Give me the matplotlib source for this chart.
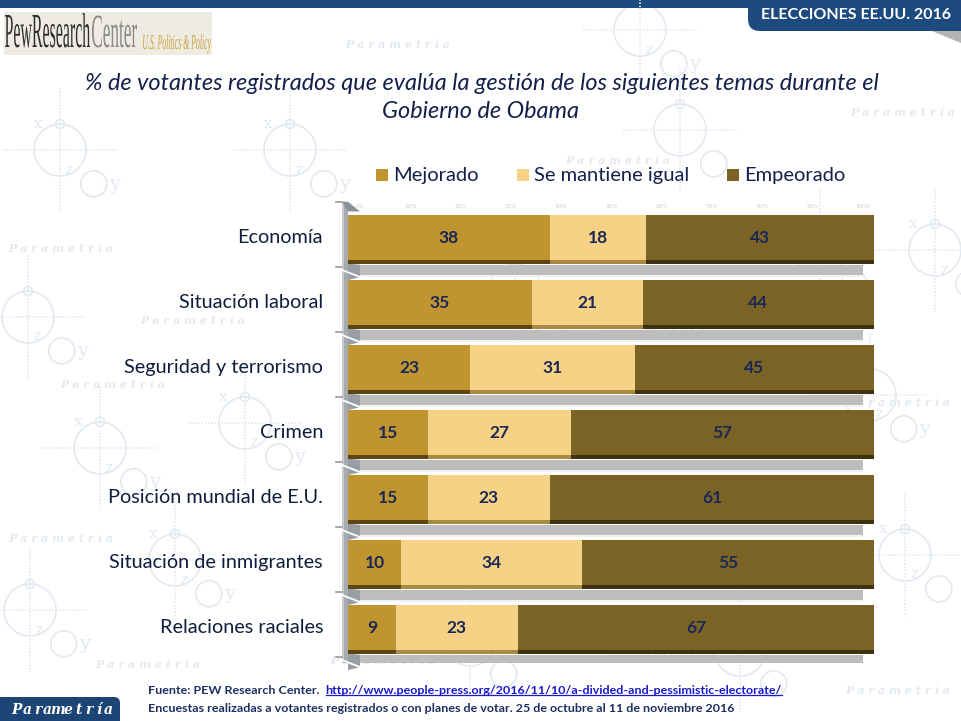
import matplotlib
matplotlib.use("Agg")
import matplotlib.pyplot as plt
import numpy as np
from matplotlib.patches import Rectangle, Polygon, Circle, FancyBboxPatch, PathPatch
from matplotlib.textpath import TextPath
from matplotlib.font_manager import FontProperties
from matplotlib.transforms import Affine2D

# data
categories = ["Economía", "Situación laboral", "Seguridad y terrorismo", "Crimen",
              "Posición mundial de E.U.", "Situación de inmigrantes", "Relaciones raciales"]
series_names = ["Mejorado", "Se mantiene igual", "Empeorado"]
mejorado = [38, 35, 23, 15, 15, 10, 9]
igual = [18, 21, 31, 27, 23, 34, 23]
empeorado = [43, 44, 45, 57, 61, 55, 67]
face_colors = ["#c0952f", "#f5d286", "#7b6326"]
edge_colors = ["#5c4614", "#a88a45", "#3f3210"]
pct_labels = ["0%", "10%", "20%", "30%", "40%", "50%", "60%", "70%", "80%", "90%", "100%"]

title_1 = "% de votantes registrados que evalúa la gestión de los siguientes temas durante el"
title_2 = "Gobierno de Obama"
source_1 = "Fuente: PEW Research Center.  "
source_link = "http://www.people-press.org/2016/11/10/a-divided-and-pessimistic-electorate/"
source_2 = "Encuestas realizadas a votantes registrados o con planes de votar. 25 de octubre al 11 de noviembre 2016"

FONT = "Lato"
NAVY = "#13204a"
BLUE = "#1d4a7f"
WM = "#e2e9f1"

fig = plt.figure(figsize=(9.61, 7.21), dpi=100)
fig.patch.set_facecolor("white")

# full-figure axes in pixel coords for the slide decoration
bg = fig.add_axes([0, 0, 1, 1])
bg.set_xlim(0, 961)
bg.set_ylim(721, 0)
bg.axis("off")


def motif(cx, cy, r=26, letters=True):
    # faint watermark pattern of the slide background
    bg.add_patch(Circle((cx, cy), r, fill=False, ec=WM, lw=1.2))
    bg.plot([cx - 2.2 * r, cx + 2.2 * r], [cy, cy], color=WM, lw=1.2, ls=(0, (1, 1)))
    bg.plot([cx, cx], [cy - 2.4 * r, cy + 2.4 * r], color=WM, lw=1.2, ls=(0, (1, 1)))
    bg.add_patch(Circle((cx + 1.3 * r, cy + 1.3 * r), 0.5 * r, fill=False, ec=WM, lw=1.2))
    bg.add_patch(Circle((cx, cy - r), 0.17 * r, fill=False, ec=WM, lw=1.2))
    if not letters:
        return
    for dx, dy, ch, fs in [(-0.85, -1.0, "x", 11), (0.35, 0.75, "z", 10), (2.1, 1.3, "y", 14)]:
        tx, ty = cx + dx * r, cy + dy * r
        if 8 < tx < 953 and 12 < ty < 712:
            bg.text(tx, ty, ch, color=WM, fontsize=fs, family="DejaVu Serif",
                    ha="center", va="center")


for mx, my, lt in [(28, 317, True), (100, 448, True), (245, 423, True), (30, 610, True),
                   (175, 560, True), (515, 290, False), (290, 150, True), (680, 130, False),
                   (640, 30, True), (905, 555, True), (935, 250, True), (870, 395, True),
                   (470, 640, False), (740, 650, False), (820, 250, False), (60, 150, True)]:
    motif(mx, my, letters=lt)

for wx, wy in [(345, 45), (850, 113), (565, 160), (8, 248), (60, 385),
               (845, 402), (8, 538), (95, 665), (330, 660), (610, 652), (140, 320),
               (600, 330), (845, 690)]:
    bg.text(wx, wy, "P a r a m e t r í a", color=WM, fontsize=8, style="italic",
            weight="bold", family="DejaVu Serif", ha="left", va="center")

# top banner
bg.add_patch(Rectangle((0, 0), 961, 8, color=BLUE, lw=0))
bg.add_patch(FancyBboxPatch((748, -30), 260, 61, boxstyle="round,pad=0,rounding_size=12",
                            fc=BLUE, ec="none"))
bg.add_patch(Polygon([(932, 31), (961, 31), (961, 43)], closed=True, fc="#b4b4b4", ec="none"))
banner = bg.text(951, 15, "ELECCIONES EE.UU. 2016", color="white", fontsize=12.5,
                 weight="bold", family=FONT, ha="right", va="center")

# Pew logo box
bg.add_patch(Rectangle((4, 12), 208, 43, fc="#eeece2", ec="none"))


def squeezed(s, x0, x1, y_base, height, color, prop, ref=None):
    tp = TextPath((0, 0), s, size=100, prop=prop)
    rb = TextPath((0, 0), ref or s, size=100, prop=prop).get_extents()
    bb = tp.get_extents()
    sx = (x1 - x0) / bb.width
    sy = height / rb.height
    tr = Affine2D().translate(-bb.x0, 0).scale(sx, -sy).translate(x0, y_base)
    bg.add_patch(PathPatch(tr.transform_path(tp), fc=color, ec="none"))


serif = FontProperties(family="Liberation Serif")
serif_it = FontProperties(family="Liberation Serif", style="italic")
squeezed("PewResearch", 5, 90, 47, 32, "#2e2e2e", serif, ref="P")
squeezed("Center", 92, 137, 47, 32, "#8a8a8a", serif, ref="C")
squeezed("U.S. Politics & Policy", 143, 211, 49, 14, "#c9a23c", serif_it, ref="U")

# title
t1 = bg.text(482, 84, title_1, color=NAVY, fontsize=15, style="italic", family=FONT,
             ha="center", va="center")
t2 = bg.text(481, 112, title_2, color=NAVY, fontsize=15, style="italic", family=FONT,
             ha="center", va="center")

# legend
leg_x = [376, 517, 727]
for lx, name, col in zip(leg_x, series_names, face_colors):
    bg.add_patch(Rectangle((lx, 169), 12, 12, fc=col, ec="none"))
    bg.text(lx + 17, 175, name, color=NAVY, fontsize=14.5, family=FONT, ha="left", va="center")

# footer
bg.add_patch(FancyBboxPatch((-20, 697), 140, 60, boxstyle="round,pad=0,rounding_size=6",
                            fc="#1c4576", ec="none"))
for i, ch in enumerate("Parametría"):
    bg.text(17 + i * 10.2, 710, ch, color="white", fontsize=10, style="italic",
            weight="bold", family="DejaVu Serif", ha="center", va="center")
f1 = bg.text(148, 690, source_1, color="#1f2f62", fontsize=8.6, weight="bold", family=FONT,
             ha="left", va="center")
f2 = bg.text(148, 708, source_2, color="#1f2f62", fontsize=8.6, weight="bold", family=FONT,
             ha="left", va="center")

# chart axes: x in percent, y in category index
ax = fig.add_axes([348 / 961, 1 - 663 / 721, 526 / 961, 463 / 721])
ax.set_xlim(0, 100)
ax.set_ylim(6.546, -0.577)
ax.axis("off")

vals = np.array([mejorado, igual, empeorado], dtype=float)
shares = vals / vals.sum(axis=0) * 100
y = np.arange(len(categories))
face_h = 0.692

# left wall of the 3D plot
ax.add_patch(Rectangle((-1.15, -0.55), 1.15, 7.09, fc="#a6aab1", ec="none", clip_on=False))
ax.add_patch(Rectangle((-1.15, -0.55), 0.35, 7.09, fc="#c7cbd1", ec="none", clip_on=False))
ax.add_patch(Polygon([(-1.15, -0.55), (0, -0.55), (2.3, -0.40), (0, -0.40)], closed=True,
                     fc="#8e9298", ec="none", clip_on=False))

# floor shadow bands and wedges between rows
for yi in y:
    ax.add_patch(Polygon([(0, yi + 0.40), (2.3, yi + 0.42), (2.3, yi + 0.61), (0, yi + 0.655)],
                         closed=True, fc="#9a9ea4", ec="none", clip_on=False))
    ax.barh(yi + 0.50, 97.9 - 2.28, left=2.28, height=0.155, color="#bdbdbd", lw=0)
    ax.barh(yi + 0.593, 97.9 - 2.28, left=2.28, height=0.03, color="#f2f2f2", lw=0)
    ax.plot([-1.15, 2.28], [yi + 0.50, yi + 0.608], color="white", lw=1.3, clip_on=False)
for yb in np.arange(-0.55, 7.0, 1.0):
    ax.plot([-2.3, -1.15], [yb, yb], color="#9a9a9a", lw=1.2, clip_on=False)

# back-wall percentage labels (very faint)
for k, lab in enumerate(pct_labels):
    ax.text(2.28 + k * (97.9 - 2.28) / 10, -0.47, lab, color="#d2d2d2", fontsize=4.5,
            family=FONT, ha="center", va="center")

# stacked bars
left = np.zeros(len(categories))
for k in range(3):
    ax.barh(y, shares[k], left=left, height=face_h, color=face_colors[k], lw=0, zorder=3)
    ax.barh(y + face_h / 2 + 0.031, shares[k], left=left, height=0.062,
            color=edge_colors[k], lw=0, zorder=3)
    for yi, lft, w, v in zip(y, left, shares[k], vals[k]):
        ax.text(lft + w / 2, yi, f"{v:.0f}", color="#1b2754", fontsize=12.5, weight="bold",
                family=FONT, ha="center", va="center", zorder=4)
    left = left + shares[k]

for yi, cat in zip(y, categories):
    ax.text(-4.75, yi, cat, color="#0f1d3d", fontsize=14.3, family=FONT,
            ha="right", va="center")

# fit a few long texts to their width in the reference and place the link
fig.canvas.draw()
r = fig.canvas.get_renderer()


def fit(t, target):
    w = t.get_window_extent(r).width
    t.set_fontsize(t.get_fontsize() * target / w)


fit(t1, 796)
t2.set_fontsize(t1.get_fontsize())
fit(banner, 191)
fit(f2, 582)
f1.set_fontsize(f2.get_fontsize())
fig.canvas.draw()
bb = f1.get_window_extent(r)
x_link = bb.x1
link = fig.text(x_link / fig.bbox.width, 1 - 690 / 721, source_link, color="#1a1acc",
                fontsize=f2.get_fontsize(), weight="bold", family=FONT, ha="left", va="center")
fig.canvas.draw()
lb = link.get_window_extent(r)
fig.add_artist(plt.Line2D([lb.x0 / fig.bbox.width, lb.x1 / fig.bbox.width],
                          [(lb.y0 + 1) / fig.bbox.height] * 2, color="#1a1acc", lw=0.9))

fig.savefig("out.png", dpi=100, facecolor="white")
